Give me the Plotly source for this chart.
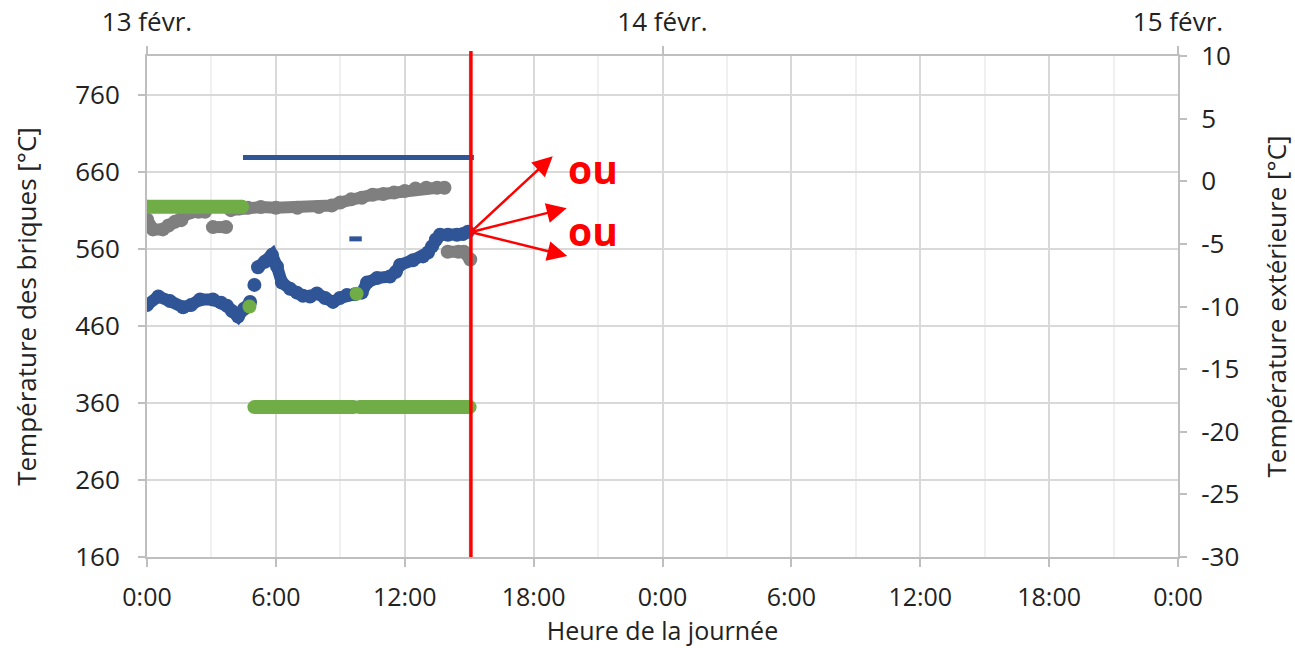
import plotly.graph_objects as go

# ---- data (hours since 13 févr. 0:00) ----
blue_t = [0.0, 0.53, 1.07, 1.68, 2.05, 2.47, 3.07, 3.45, 3.72, 3.96, 4.24, 4.52, 4.80, None,
          5.0, None,
          5.17, 5.49, 5.82, 6.05, 6.28, 6.66, 6.98, 7.26, 7.59, 7.91, 8.29, 8.66, 8.98, 9.31,
          9.68, 10.0, 10.24, 10.71, 11.31, 11.59, 11.78, 12.38, 12.85, 13.08, 13.27, 13.45,
          13.64, 14.01, 14.43, 14.71, 14.94]
blue_v = [487, 498, 492, 484, 487, 494, 494, 490, 486, 479, 472, 482, 491, None,
          513, None,
          536, 543, 552, 537, 516, 508, 503, 499, 498, 502, 496, 491, 496, 500,
          501, 503, 516, 522, 524, 530, 539, 545, 550, 555, 563, 572,
          578, 578, 578, 579, 582]

grey_t = [0.0, 0.28, 0.74, 1.0, 1.3, 1.6, 2.0, 2.4, 2.7, None,
          3.07, 3.68, None,
          3.9, 4.3, 4.7, 5.3, 6.0, 7.0, 8.0, 8.6, 9.0, 9.5, 10.0, 10.5, 11.0, 11.5, 12.0,
          12.5, 13.0, 13.5, 13.85, None,
          14.0, 14.5, 14.75, 15.05]
grey_v = [598, 585, 585, 590, 595, 597, 607, 608, 608, None,
          588, 588, None,
          610, 612, 613, 614, 613, 613, 614, 616, 620, 624, 626, 630, 631, 633, 635,
          638, 639, 639, 639, None,
          556, 556, 556, 546]

green_t = [0.0, 4.43, None, 4.77, None, 5.0, 9.62, None, 9.76, None, 9.9, 15.02]
green_v = [614.5, 614.5, None, 485, None, 354.5, 354.5, None, 501.6, None, 354.5, 354.5]

# outdoor temperature (right axis)
ext_t = [4.47, 15.22, None, 9.42, 10.0]
ext_v = [1.9, 1.9, None, -4.6, -4.6]

x_tickvals = [0, 6, 12, 18, 24, 30, 36, 42, 48]
x_ticktext = ["0:00", "6:00", "12:00", "18:00", "0:00", "6:00", "12:00", "18:00", "0:00"]
x_minor = [3, 9, 15, 21, 27, 33, 39, 45]
date_tickvals = [0, 24, 48]
date_ticktext = ["13 févr.", "14 févr.", "15 févr."]
left_ticks = [160, 260, 360, 460, 560, 660, 760]
right_ticks = [-30, -25, -20, -15, -10, -5, 0, 5, 10]
right_ticktext = ["-30", "-25", "-20", "-15", "-10", "-5", "0", "5", "10"]

now_h = 15.08
now_v = 581.6
arrow_tips = [(18.89, 680.0), (19.54, 612.6), (19.57, 550.6)]
ou_labels = [(20.76, 664.0), (20.76, 583.5)]

BLUE = "#2F5597"
GREY = "#7F7F7F"
GREEN = "#70AD47"
RED = "#FF0000"
TXT = "#222222"

fig = go.Figure()
fig.add_trace(go.Scatter(x=grey_t, y=grey_v, mode="lines+markers",
                         line=dict(color=GREY, width=12), marker=dict(color=GREY, size=14),
                         connectgaps=False, hoverinfo="skip"))
fig.add_trace(go.Scatter(x=blue_t, y=blue_v, mode="lines+markers",
                         line=dict(color=BLUE, width=12), marker=dict(color=BLUE, size=14),
                         connectgaps=False, hoverinfo="skip"))
fig.add_trace(go.Scatter(x=green_t, y=green_v, mode="lines+markers",
                         line=dict(color=GREEN, width=14), marker=dict(color=GREEN, size=14),
                         connectgaps=False, hoverinfo="skip"))
fig.add_trace(go.Scatter(x=ext_t, y=ext_v, mode="lines", xaxis="x2", yaxis="y2",
                         line=dict(color=BLUE, width=5), connectgaps=False, hoverinfo="skip"))

fig.add_shape(type="line", xref="x", yref="paper", x0=now_h, x1=now_h, y0=0, y1=1.01,
              line=dict(color=RED, width=3.5), layer="above")

for (tx, ty) in arrow_tips:
    fig.add_annotation(x=tx, y=ty, xref="x", yref="y", ax=now_h, ay=now_v, axref="x", ayref="y",
                       text="", showarrow=True, arrowhead=2, arrowsize=1.6, arrowwidth=2.5,
                       arrowcolor=RED, standoff=0, startstandoff=0)
for (tx, ty) in ou_labels:
    fig.add_annotation(x=tx, y=ty, xref="x", yref="y", text="<b>ou</b>", showarrow=False,
                       font=dict(family="Open Sans", size=39, color=RED),
                       xanchor="center", yanchor="middle")

axis_common = dict(showline=True, linecolor="#BFBFBF", linewidth=2, ticks="outside",
                   tickcolor="#BFBFBF", tickwidth=2, zeroline=False,
                   tickfont=dict(family="Open Sans", size=26, color=TXT))

fig.update_layout(
    width=1295, height=648,
    margin=dict(l=147, r=117, t=56, b=91, autoexpand=False),
    paper_bgcolor="white", plot_bgcolor="white", showlegend=False,
    font=dict(family="Open Sans", size=26, color=TXT),
    xaxis=dict(range=[0, 48], tickmode="array", tickvals=x_tickvals, ticktext=x_ticktext,
               showgrid=True, gridcolor="#D9D9D9", gridwidth=2, ticklen=8,
               minor=dict(tickmode="array", tickvals=x_minor, showgrid=True,
                          gridcolor="#F0F0F0", gridwidth=2, ticks=""),
               ticklabelstandoff=9,
               title=dict(text="Heure de la journée", standoff=9,
                          font=dict(family="Open Sans", size=25, color=TXT)),
               automargin=False,
               **{**axis_common, "tickfont": dict(family="Open Sans", size=25, color=TXT)}),
    xaxis2=dict(overlaying="x", side="top", range=[0, 48], tickmode="array",
                tickvals=date_tickvals, ticktext=date_ticktext, showgrid=False,
                ticklen=8, ticklabelstandoff=5, automargin=False, **axis_common),
    yaxis=dict(range=[160, 810], tickmode="array", tickvals=left_ticks,
               showgrid=True, gridcolor="#D9D9D9", gridwidth=2, ticklen=7,
               ticklabelstandoff=13,
               title=dict(text="Température des briques [°C]", standoff=31,
                          font=dict(family="Open Sans", size=26, color=TXT)),
               automargin=False, **axis_common),
    yaxis2=dict(overlaying="y", side="right", range=[-30, 10], tickmode="array",
                tickvals=right_ticks, ticktext=right_ticktext, showgrid=False, ticklen=7,
                ticklabelstandoff=9,
                title=dict(text="Température extérieure [°C]", standoff=29,
                           font=dict(family="Open Sans", size=26, color=TXT)),
                automargin=False, **axis_common),
)

fig.write_html("out.html", config={"displayModeBar": False},
               post_script="document.body.style.margin='0';document.body.style.overflow='hidden';")
